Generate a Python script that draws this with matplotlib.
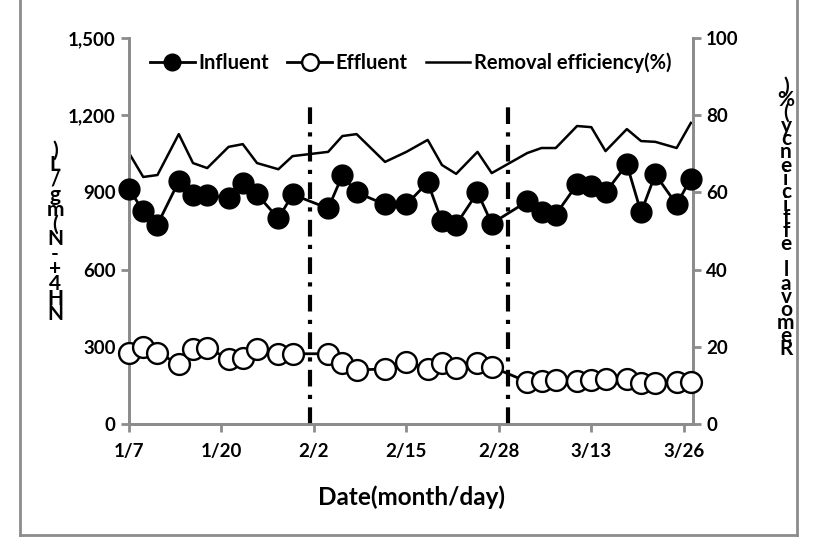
import matplotlib
matplotlib.use('Agg')
import matplotlib.pyplot as plt
from matplotlib.lines import Line2D
import numpy as np

plt.rcParams['font.family'] = ['Lato', 'DejaVu Sans']
plt.rcParams['font.weight'] = 'bold'

# sampling days counted from 1/7
days = [0, 2, 4, 7, 9, 11, 14, 16, 18, 21, 23, 28, 30, 32, 36, 39,
        42, 44, 46, 49, 51, 56, 58, 60, 63, 65, 67, 70, 72, 74, 77, 79]
influent = [915, 826, 775, 943, 888, 888, 880, 938, 892, 799, 892, 838, 966, 900, 853, 853,
            939, 787, 775, 900, 779, 865, 822, 814, 931, 923, 900, 1009, 822, 970, 853, 954]
effluent = [277, 300, 277, 233, 292, 296, 253, 257, 292, 273, 273, 273, 237, 210, 214, 242,
            214, 237, 218, 237, 222, 164, 168, 171, 168, 171, 175, 175, 160, 160, 164, 164]
removal = [70.2, 64.0, 64.5, 75.1, 67.6, 66.3, 71.8, 72.5, 67.6, 66.0, 69.4, 70.5, 74.6, 75.1, 67.9, 70.5,
           73.6, 67.1, 64.8, 70.5, 65.0, 70.2, 71.5, 71.5, 77.2, 76.9, 70.7, 76.4, 73.3, 73.1, 71.5, 78.0]

tick_days = [0, 13, 26, 39, 52, 65, 78]
tick_labels = ['1/7', '1/20', '2/2', '2/15', '2/28', '3/13', '3/26']
phase_days = [25.5, 53.3]

left_label = 'NH4+-N(mg/L)'
right_label = 'Removal efficiency(%)'

grey = '#8c8c8c'

fig = plt.figure(figsize=(8.23, 5.48), dpi=100)
ax = fig.add_axes([129/823, 1 - 424/548, (693 - 129)/823, (424 - 38)/548])
ax2 = ax.twinx()

ax.plot(days, influent, '-o', color='black', lw=2, ms=15, mfc='black', mec='black',
        label='Influent', zorder=3, clip_on=False)
ax.plot(days, effluent, '-o', color='black', lw=2, ms=15, mfc='white', mec='black',
        mew=1.7, label='Effluent', zorder=3, clip_on=False)
ax2.plot(days, removal, '-', color='black', lw=1.8, label='Removal efficiency(%)')

for d in phase_days:
    ax.plot([d, d], [0, 1250], color='black', lw=3, linestyle=(0, (4, 2, 1, 2)), zorder=2)

ax.set_xlim(0, 79.3)
ax.set_ylim(0, 1500)
ax2.set_ylim(0, 100)
ax.set_yticks(np.arange(0, 1501, 300))
ax.set_yticklabels(['{:,}'.format(v) for v in range(0, 1501, 300)])
ax2.set_yticks(np.arange(0, 101, 20))
ax.set_xticks(tick_days)
ax.set_xticklabels(tick_labels)

for a in (ax, ax2):
    a.set_zorder(1 if a is ax else 0)
    for s in a.spines.values():
        s.set_color(grey)
        s.set_linewidth(2)
    a.spines['top'].set_visible(False)
    a.tick_params(colors=grey, labelcolor='black', width=2, length=6, labelsize=13.5)
ax.patch.set_visible(False)
ax.tick_params(axis='x', pad=8)

ax.set_xlabel('Date(month/day)', fontsize=17.5, fontweight='bold', labelpad=18)

# stacked y labels
fig.text(55/823, 1 - 232/548, '\n'.join(reversed(left_label)), ha='center', va='center',
         fontsize=15, fontweight='bold', linespacing=0.68)
fig.text(786/823, 1 - 218/548, '\n'.join(reversed(right_label)), ha='center', va='center',
         fontsize=15, fontweight='bold', linespacing=0.57)

h1, l1 = ax.get_legend_handles_labels()
h2, l2 = ax2.get_legend_handles_labels()
ax.legend(h1 + h2, l1 + l2, loc='upper center', bbox_to_anchor=(0.5, 1.01), ncol=3,
          frameon=False, fontsize=14.5, handlelength=2.2, columnspacing=0.9,
          handletextpad=0.2, markerscale=0.8)

# outer chart border
fig.add_artist(Line2D([20/823, 20/823], [1 - 535/548, 1], color=grey, lw=2))
fig.add_artist(Line2D([797/823, 797/823], [1 - 535/548, 1], color=grey, lw=2))
fig.add_artist(Line2D([20/823, 797/823], [1 - 535/548, 1 - 535/548], color=grey, lw=2))

fig.savefig('out.png', dpi=100)
